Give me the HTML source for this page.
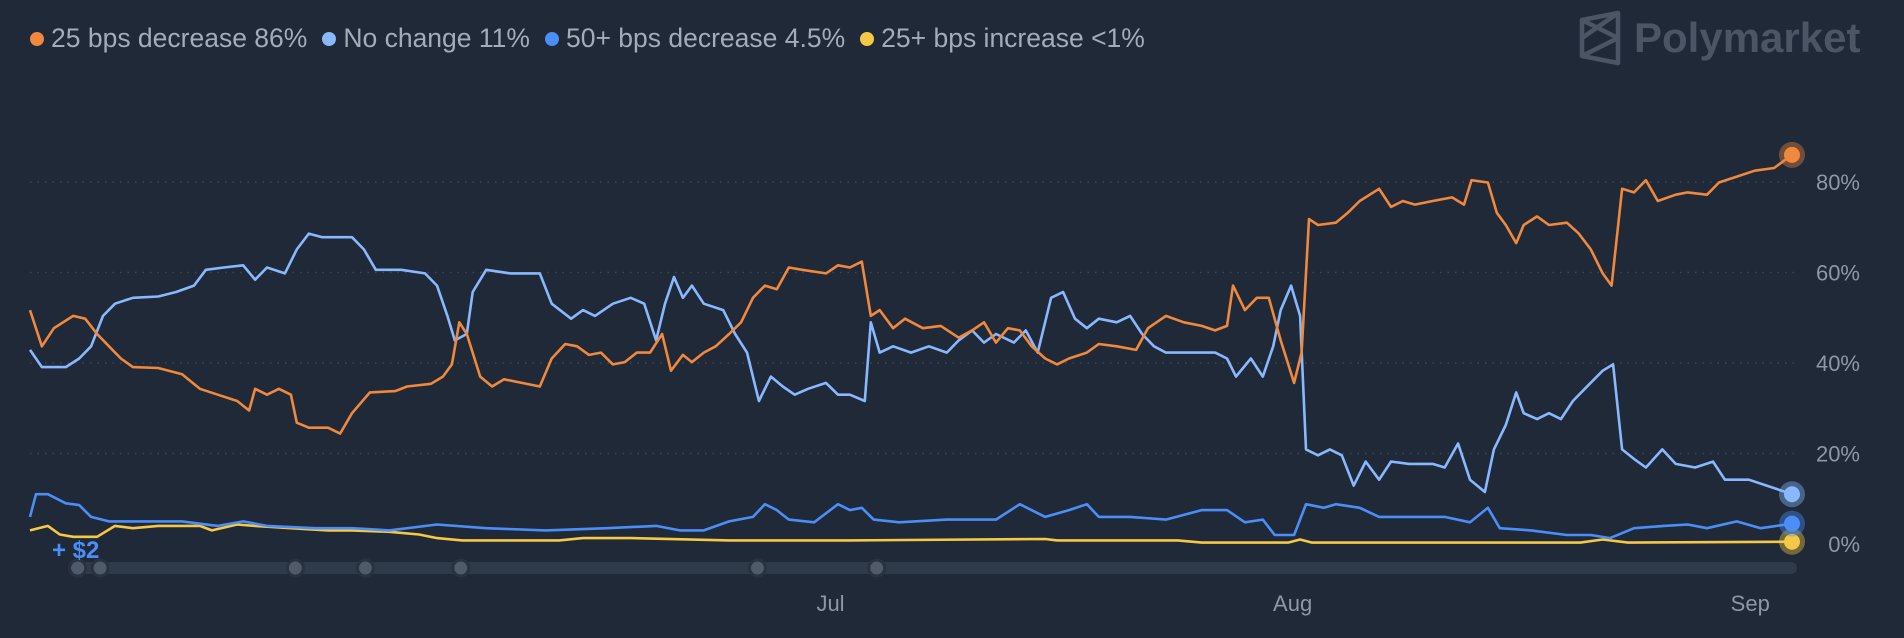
<!DOCTYPE html>
<html><head><meta charset="utf-8">
<style>
html,body{margin:0;padding:0;background:#1f2937;}
body{width:1904px;height:638px;overflow:hidden;position:relative;font-family:"Liberation Sans",sans-serif;}
#legend{position:absolute;left:30px;top:23px;font-size:26.5px;color:#a3acb9;display:flex;gap:15px;white-space:nowrap;}
.li{display:flex;align-items:center;gap:7px;}
.dot{width:14px;height:14px;border-radius:50%;display:inline-block;}
#logo{position:absolute;left:1578px;top:10px;display:flex;align-items:center;gap:12px;color:#4b5565;font-size:42px;font-weight:bold;}
svg{position:absolute;left:0;top:0;}
</style></head><body>
<div id="legend">
 <span class="li"><span class="dot" style="background:#f0883e"></span>25 bps decrease 86%</span>
 <span class="li"><span class="dot" style="background:#8ab8ff"></span>No change 11%</span>
 <span class="li"><span class="dot" style="background:#4c8ef7"></span>50+ bps decrease 4.5%</span>
 <span class="li"><span class="dot" style="background:#f5c945"></span>25+ bps increase &lt;1%</span>
</div>
<div id="logo">
 <svg width="44" height="56" viewBox="0 0 44 56" style="position:static"><path d="M4 10 L40 3 L40 53 L4 46 Z M4 10 L40 28 L4 46 M40 3 L4 28" fill="none" stroke="#4b5565" stroke-width="4.5" stroke-linejoin="round"/></svg>
 <span>Polymarket</span>
</div>
<svg id="chart" width="1904" height="638"></svg>
<script>
const oDays=[0,0.8,1.6,2.9,3.7,4.5,5.3,6.1,6.9,8.6,10.2,11.4,12.6,13.9,14.7,15.1,15.9,16.7,17.5,17.9,18.7,20.0,20.8,21.6,22.8,24.5,25.3,26.9,27.7,28.3,28.8,29.3,30.2,31.0,31.8,33.0,34.2,35.0,35.9,36.7,37.5,38.3,39.1,39.9,40.7,41.6,42.4,43.0,43.8,44.4,45.2,46.0,46.9,47.7,48.5,49.3,50.1,50.9,51.8,53.4,54.2,55.0,55.8,56.4,57.0,57.9,58.7,59.9,61.1,62.3,63.2,64.0,64.8,65.6,66.4,67.2,68.1,68.9,69.7,70.9,71.7,72.9,74.2,75.0,76.2,77.4,78.6,79.5,80.3,80.7,81.5,82.3,83.1,83.9,84.8,85.3,85.8,86.4,87.6,88.4,89.2,90.5,91.3,92.1,92.9,94.1,95.4,96.2,96.7,97.8,98.4,99.0,99.7,100.2,101.1,101.9,103.1,103.9,104.7,105.5,106.1,106.8,107.6,108.4,109.2,110.4,111.2,112.5,113.3,114.5,115.7,117.0,118.2];
const oVals=[51.7,43.7,47.7,50.4,49.8,46.4,43.7,41.0,39.1,38.9,37.5,34.3,33.0,31.6,29.5,34.3,33.0,34.3,33.0,26.8,25.7,25.7,24.4,28.9,33.5,33.8,34.8,35.4,37.0,39.7,49.0,46.4,37.0,34.8,36.4,35.6,34.8,41.0,44.2,43.7,41.8,42.3,39.7,40.2,42.3,42.3,46.4,38.3,41.8,40.2,42.3,43.7,46.4,49.0,54.4,57.1,56.3,61.1,60.6,59.8,61.6,61.1,62.4,50.4,51.7,47.7,49.8,47.7,48.2,45.6,47.2,49.0,44.5,47.7,47.2,43.7,41.0,39.7,41.0,42.3,44.2,43.7,42.9,47.7,50.4,49.0,48.2,47.2,48.2,57.1,51.7,54.4,54.4,45.0,35.6,42.3,71.8,70.5,71.0,73.2,75.8,78.5,74.5,75.8,75.0,75.8,76.6,75.0,80.4,79.9,73.2,70.5,66.5,70.5,72.4,70.5,71.0,68.6,65.1,59.8,57.1,78.5,77.7,80.4,75.8,77.2,77.7,77.2,79.9,81.2,82.5,83.1,86.0];
const nDays=[0,0.8,2.4,3.3,4.1,4.9,5.7,6.9,8.6,9.8,11.0,11.8,13.0,14.3,15.1,15.9,17.1,17.9,18.7,19.6,21.6,22.4,23.2,24.9,26.5,27.3,28.0,28.5,29.3,29.7,30.6,32.2,34.2,35.0,36.3,37.1,37.9,39.1,40.3,41.2,42.0,42.6,43.2,43.8,44.4,45.2,46.5,47.3,48.1,48.9,49.7,50.5,51.3,52.2,53.4,54.2,55.0,56.0,56.4,57.0,57.9,59.1,60.3,61.5,62.3,63.2,64.0,64.8,66.0,66.8,67.6,68.5,69.3,70.1,70.9,71.7,72.9,73.8,74.6,75.4,76.2,78.2,79.5,80.3,80.9,81.9,82.7,83.4,83.9,84.6,85.2,85.6,86.4,87.2,88.0,88.8,89.6,90.5,91.3,92.5,94.1,94.9,95.8,96.6,97.6,98.2,99.0,99.7,100.2,101.1,101.9,102.7,103.5,104.3,105.5,106.2,106.8,107.6,108.4,109.5,110.4,111.7,112.9,113.7,115.3,116.5,118.2];
const nVals=[42.9,39.1,39.1,41.0,43.7,50.4,53.1,54.4,54.7,55.7,57.1,60.6,61.1,61.6,58.4,61.1,59.8,65.1,68.6,67.8,67.8,65.1,60.6,60.6,59.8,57.1,50.4,45.0,46.4,55.7,60.6,59.8,59.8,53.1,49.8,51.7,50.4,53.1,54.4,53.1,45.0,53.1,59.0,54.4,57.1,53.1,51.7,46.4,42.3,31.6,37.0,34.8,33.0,34.3,35.6,33.0,33.0,31.6,49.0,42.3,43.7,42.3,43.7,42.3,45.0,47.2,44.5,46.4,44.5,47.2,42.3,54.4,55.7,49.8,47.7,49.8,49.0,50.4,46.4,43.7,42.3,42.3,42.3,41.0,37.0,41.0,37.0,43.7,51.7,57.1,50.4,20.9,19.6,20.9,19.6,12.9,18.2,14.2,18.2,17.7,17.7,16.9,22.2,14.2,11.5,20.9,26.3,33.5,28.9,27.6,28.9,27.6,31.6,34.3,38.3,39.7,20.9,18.8,16.9,20.9,17.7,16.9,18.2,14.2,14.2,12.9,11.0];
const bDays=[0,0.4,1.2,2.4,3.3,4.1,5.3,6.9,10.2,12.6,14.3,15.9,19.1,21.6,24.1,27.3,30.6,34.6,38.7,42.0,43.6,45.2,46.9,48.5,49.3,50.1,50.9,52.6,54.2,55.0,55.8,56.6,58.3,61.5,64.8,66.4,68.1,69.7,70.9,71.7,73.8,76.2,78.6,80.3,81.5,82.7,83.5,84.8,85.6,86.8,87.6,89.2,90.5,92.5,94.9,96.6,97.8,98.6,100.7,103.1,104.7,106.0,107.6,109.6,111.2,112.5,114.5,116.1,118.2];
const bVals=[6,11,11,9,8.6,6,5,5,5,4,5,4,3.5,3.5,3,4.3,3.5,3,3.5,4,3,3,5,6,8.8,7.5,5.4,4.8,8.8,7.5,8,5.4,4.8,5.4,5.4,8.8,6,7.5,8.8,6,6,5.4,7.5,7.5,4.8,5.4,2,2,8.8,8,8.8,8,6,6,6,4.8,8,3.5,3,2,2,1.3,3.5,4,4.3,3.5,5,3.5,4.5];
const yDays=[0,1.2,2.0,2.9,4.5,5.7,6.9,8.6,11.4,12.2,13.9,15.1,17.5,20.0,21.6,24.1,26.1,27.3,29.0,35.5,37.1,40.3,46.9,55.0,68.1,68.9,77.0,78.6,84.4,85.2,86.0,104.0,105.5,107.2,118.2];
const yVals=[3,4,2.1,1.6,1.6,4,3.5,4,4,3,4.3,4,3.5,3,3,2.7,2.1,1.3,0.8,0.8,1.3,1.3,0.8,0.8,1.1,0.8,0.8,0.3,0.3,1,0.3,0.3,1,0.3,0.5];
const yTicks=[0,20,40,60,80];
const xTickLabels=["Jul","Aug","Sep"];
const xTickDays=[53.7,84.7,115.4];
const handleDays=[3.2,4.7,17.8,22.5,28.9,48.8,56.8];

const X0=30,X1=1792,DMAX=118.2,Y0=544,PXPCT=4.525;
const xs=d=>X0+d*(X1-X0)/DMAX;
const ys=v=>Y0-v*PXPCT;
const svg=document.getElementById('chart');
const NS='http://www.w3.org/2000/svg';
function mk(t,a){const e=document.createElementNS(NS,t);for(const k in a)e.setAttribute(k,a[k]);svg.appendChild(e);return e;}

yTicks.forEach(v=>{
  if(v>0){const g=mk('line',{x1:30,x2:1795,y1:ys(v),y2:ys(v),stroke:'#3d4858','stroke-width':1.5,'stroke-dasharray':'1.5 6'});
  
  }
  const t=mk('text',{x:1860,y:ys(v)+8,fill:'#8e97a4','font-size':22,'text-anchor':'end','font-family':'Liberation Sans, sans-serif'});
  t.textContent=v+'%';
  
  
});
xTickLabels.forEach((l,i)=>{
  const t=mk('text',{x:xs(xTickDays[i]),y:611,fill:'#8e97a4','font-size':22,'text-anchor':'middle','font-family':'Liberation Sans, sans-serif'});
  t.textContent=l;
  
  
});
const sb=mk('rect',{x:73,y:562,width:1724,height:12,rx:6,fill:'#2f3a4b'});


handleDays.forEach((d,i)=>{
  const c=mk('circle',{cx:xs(d),cy:568,r:8,fill:'#4f5a6a',stroke:'#283241','stroke-width':3});
  
  
});
const pl=mk('text',{x:52,y:558,fill:'#4c8ef7','font-size':24,'font-weight':'bold','font-family':'Liberation Sans, sans-serif'});
pl.textContent='+ $2';



const series=[
 {d:yDays,v:yVals,c:'#f5c945',name:'line-25bps-increase'},
 {d:bDays,v:bVals,c:'#4c8ef7',name:'line-50bps-decrease'},
 {d:nDays,v:nVals,c:'#8ab8ff',name:'line-no-change'},
 {d:oDays,v:oVals,c:'#f0883e',name:'line-25bps-decrease'}
];
series.forEach(s=>{
  const pts=s.d.map((d,i)=>xs(d).toFixed(1)+','+ys(s.v[i]).toFixed(1)).join(' ');
  const p=mk('polyline',{points:pts,fill:'none',stroke:s.c,'stroke-width':2.6,'stroke-linejoin':'round'});
  
  
});
series.forEach(s=>{
  const last=s.v.length-1;
  const cx=xs(s.d[last]),cy=ys(s.v[last]);
  const h=mk('circle',{cx:cx,cy:cy,r:13,fill:s.c,'fill-opacity':0.4});
  
  
  const c=mk('circle',{cx:cx,cy:cy,r:8,fill:s.c});
  
  
});
</script>
</body></html>
